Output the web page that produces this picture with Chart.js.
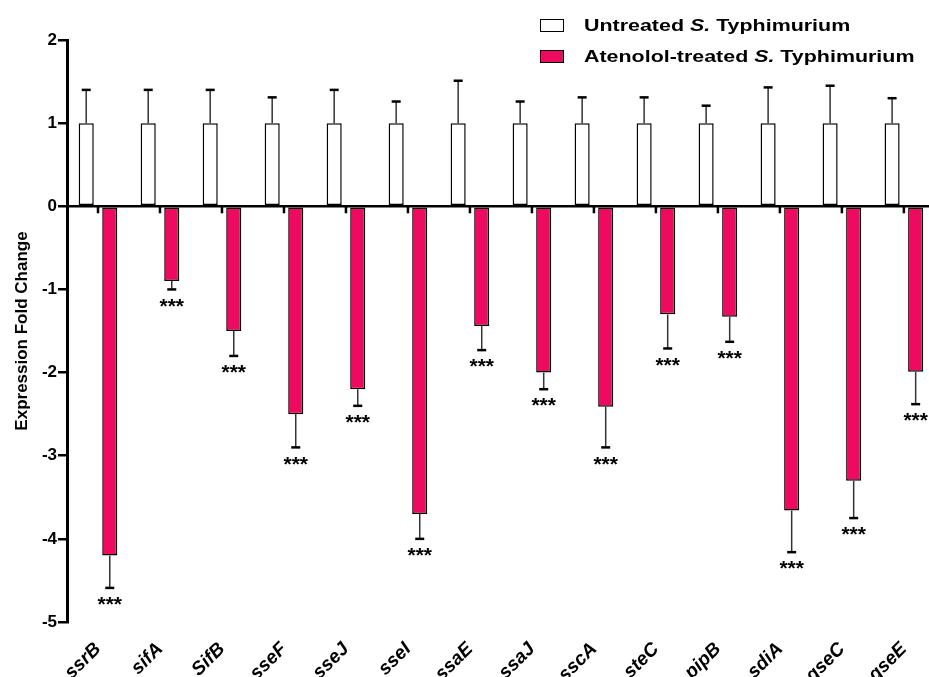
<!DOCTYPE html>
<html>
<head>
<meta charset="utf-8">
<script src="https://cdn.jsdelivr.net/npm/chart.js@4.4.0/dist/chart.umd.min.js"></script>
<style>
    body { margin: 0; overflow: hidden; background: #fff; font-family: "Liberation Sans", Arial, sans-serif; }
    .wrap { position: relative; width: 936px; height: 700px; }
    .legend { position: absolute; left: 540px; top: 10px; font-weight: bold; font-size: 17px; color: #000; }
    .legend-row { display: flex; align-items: center; height: 31px; }
    .swatch { width: 22px; height: 11px; border: 1.5px solid #000; margin-right: 20px; }
    .legend-text { display: inline-block; transform: scaleX(1.26); transform-origin: left center; white-space: nowrap; }
</style>
</head>
<body>
<div class="wrap">
    <canvas id="chart" width="936" height="700"></canvas>
    <div class="legend">
        <div class="legend-row"><span class="swatch" style="background:#fff"></span><span class="legend-text">Untreated <i>S.</i> Typhimurium</span></div>
        <div class="legend-row"><span class="swatch" style="background:#ee0a5f"></span><span class="legend-text">Atenolol-treated <i>S.</i> Typhimurium</span></div>
    </div>
</div>
<script>
// Genes on the x axis
const genes = ['ssrB', 'sifA', 'SifB', 'sseF', 'sseJ', 'sseI', 'ssaE', 'ssaJ', 'sscA', 'steC', 'pipB', 'sdiA', 'qseC', 'qseE'];

// Untreated (reference) fold change and its error
const untreated = [1, 1, 1, 1, 1, 1, 1, 1, 1, 1, 1, 1, 1, 1];
const untreatedErr = [0.40, 0.40, 0.40, 0.31, 0.40, 0.26, 0.51, 0.26, 0.31, 0.31, 0.21, 0.43, 0.45, 0.30];

// Atenolol-treated fold change and its error
const treated = [-4.20, -0.90, -1.50, -2.50, -2.20, -3.70, -1.44, -2.00, -2.41, -1.30, -1.33, -3.66, -3.30, -1.99];
const treatedErr = [0.39, 0.10, 0.30, 0.40, 0.20, 0.30, 0.29, 0.20, 0.49, 0.41, 0.30, 0.50, 0.45, 0.39];

// Significance marks under the treated bars
const significance = ['***', '***', '***', '***', '***', '***', '***', '***', '***', '***', '***', '***', '***', '***'];

const yTicks = [-5, -4, -3, -2, -1, 0, 1, 2];

const errors = [untreatedErr, treatedErr];

// Error bars, small ticks on the zero line and stars
const extrasPlugin = {
    id: 'extras',
    afterDatasetsDraw(chart) {
        const ctx = chart.ctx;
        const y = chart.scales.y;
        const x = chart.scales.x;
        const zero = y.getPixelForValue(0);
        ctx.save();

        // category ticks under the zero line
        ctx.strokeStyle = '#000';
        ctx.lineWidth = 2.5;
        genes.forEach((g, i) => {
            const px = x.getPixelForTick(i);
            ctx.beginPath();
            ctx.moveTo(px, zero);
            ctx.lineTo(px, zero + 7);
            ctx.stroke();
        });

        chart.data.datasets.forEach((ds, d) => {
            const meta = chart.getDatasetMeta(d);
            meta.data.forEach((bar, i) => {
                const v = ds.data[i];
                const e = errors[d][i];
                const end = y.getPixelForValue(v >= 0 ? v + e : v - e);
                ctx.strokeStyle = '#333';
                ctx.lineWidth = 1.5;
                ctx.beginPath();
                ctx.moveTo(bar.x, bar.y);
                ctx.lineTo(bar.x, end);
                ctx.stroke();
                ctx.strokeStyle = '#000';
                ctx.lineWidth = 2.5;
                ctx.beginPath();
                ctx.moveTo(bar.x - 4.5, end);
                ctx.lineTo(bar.x + 4.5, end);
                ctx.stroke();

                if (d === 1) {
                    ctx.fillStyle = '#000';
                    ctx.font = 'bold 21px "Liberation Sans", Arial, sans-serif';
                    ctx.textAlign = 'center';
                    ctx.textBaseline = 'top';
                    ctx.fillText(significance[i], bar.x, end + 7);
                }
            });
        });
        ctx.restore();
    }
};

new Chart(document.getElementById('chart'), {
    type: 'bar',
    data: {
        labels: genes,
        datasets: [
            {
                label: 'Untreated S. Typhimurium',
                data: untreated,
                backgroundColor: '#ffffff',
                borderColor: '#000000',
                borderWidth: 1.5,
                borderSkipped: false
            },
            {
                label: 'Atenolol-treated S. Typhimurium',
                data: treated,
                backgroundColor: '#ee0a5f',
                borderColor: '#000000',
                borderWidth: 1.5,
                borderSkipped: false
            }
        ]
    },
    options: {
        responsive: false,
        animation: false,
        categoryPercentage: 0.76,
        barPercentage: 0.64,
        layout: { padding: { top: 40, left: 0, right: 0, bottom: 0 } },
        scales: {
            x: {
                grid: { display: false, drawTicks: false },
                border: { display: false },
                ticks: {
                    autoSkip: false,
                    maxRotation: 45,
                    minRotation: 45,
                    padding: 16,
                    color: '#000',
                    font: { family: '"Liberation Sans", Arial, sans-serif', size: 19, weight: 'bold', style: 'italic' }
                },
                afterFit: s => { s.height = 78; }
            },
            y: {
                min: -5,
                max: 2,
                afterBuildTicks: s => { s.ticks = yTicks.map(v => ({ value: v })); },
                grid: {
                    color: c => (c.tick && c.tick.value === 0 ? '#000' : 'rgba(0,0,0,0)'),
                    lineWidth: 2.5,
                    tickColor: '#000',
                    tickLength: 9,
                    tickWidth: 2.5
                },
                border: { display: true, color: '#000', width: 3 },
                ticks: {
                    padding: 1,
                    color: '#000',
                    font: { family: '"Liberation Sans", Arial, sans-serif', size: 17, weight: 'bold' }
                },
                title: {
                    display: true,
                    text: 'Expression Fold Change',
                    color: '#000',
                    padding: { top: 12, bottom: 0 },
                    font: { family: '"Liberation Sans", Arial, sans-serif', size: 17, weight: 'bold' }
                },
                afterFit: s => { s.width = 67; }
            }
        },
        plugins: {
            legend: { display: false },
            tooltip: { enabled: false }
        }
    },
    plugins: [extrasPlugin]
});
</script>
</body>
</html>
